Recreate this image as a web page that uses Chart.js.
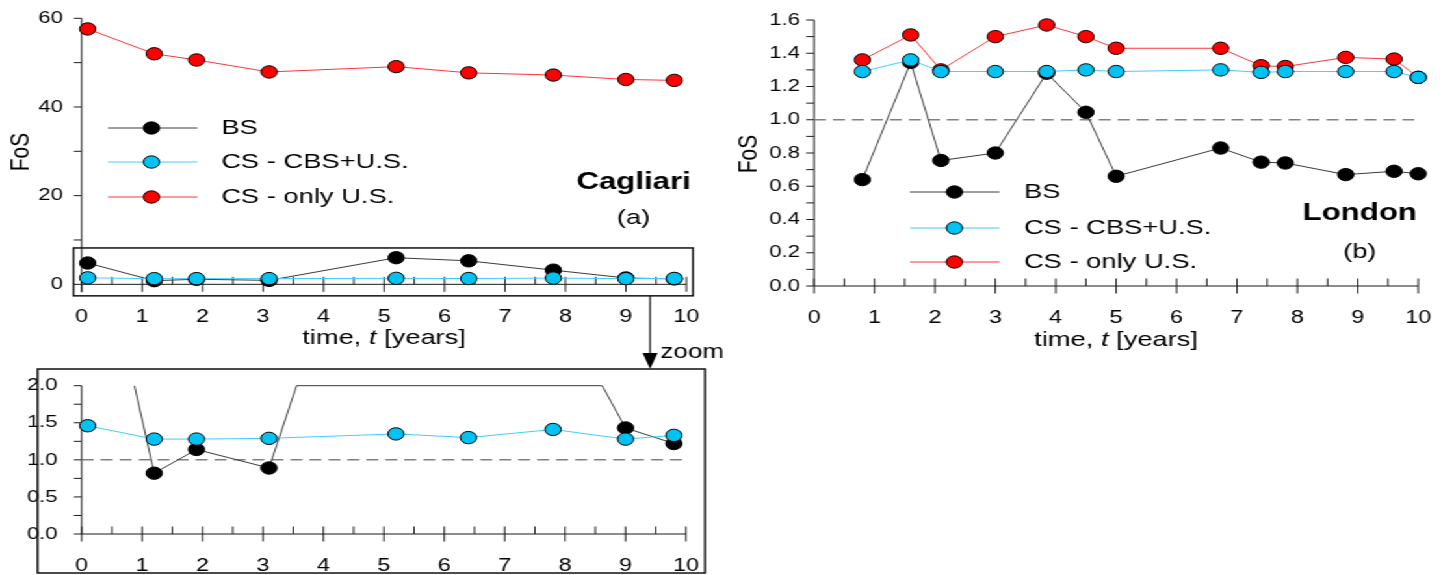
<!DOCTYPE html>
<html>
<head>
<meta charset="utf-8">
<script src="https://cdn.jsdelivr.net/npm/chart.js@4.4.1/dist/chart.umd.min.js"></script>
<style>
  html, body { margin: 0; padding: 0; background: #fff; }
  /* the original figure is stretched horizontally, so is this one */
  #wrap { position: absolute; left: 0; top: 0; width: 1114px; height: 575px; transform: scaleX(1.3); transform-origin: 0 0; }
  canvas { position: absolute; }
</style>
</head>
<body>
<div id="wrap">
  <canvas id="chartA" width="560" height="370" style="left:0;top:0"></canvas>
  <canvas id="chartZ" width="560" height="210" style="left:0;top:365px"></canvas>
  <canvas id="chartB" width="554" height="370" style="left:560px;top:0"></canvas>
</div>
<script>
const FONT = "'Liberation Sans', Arial, sans-serif";
const NARROW = "'Liberation Sans Narrow', 'Liberation Sans', Arial, sans-serif";

const seriesNames = ['BS', 'CS - CBS+U.S.', 'CS - only U.S.'];

// Cagliari (a) + zoom
const tCagliari = [0.1, 1.2, 1.9, 3.1, 5.2, 6.4, 7.8, 9.0, 9.8];
const bsCagliari = [4.8, 0.82, 1.14, 0.89, 6.0, 5.3, 3.2, 1.43, 1.22];
const cbsCagliari = [1.46, 1.28, 1.28, 1.29, 1.35, 1.30, 1.41, 1.28, 1.33];
const onlyCagliari = [57.6, 52.0, 50.6, 47.9, 49.1, 47.7, 47.2, 46.2, 46.0];

// London (b)
const tLondon = [0.8, 1.6, 2.1, 3.0, 3.85, 4.5, 5.0, 6.73, 7.4, 7.8, 8.8, 9.6, 10.0];
const bsLondon = [0.64, 1.345, 0.755, 0.80, 1.28, 1.045, 0.66, 0.83, 0.745, 0.74, 0.67, 0.69, 0.675];
const cbsLondon = [1.29, 1.36, 1.29, 1.29, 1.29, 1.30, 1.29, 1.30, 1.285, 1.29, 1.29, 1.29, 1.255];
const onlyLondon = [1.36, 1.51, 1.30, 1.50, 1.57, 1.50, 1.43, 1.43, 1.325, 1.32, 1.375, 1.365, 1.255];

// ticks
const xTicks = [0, 1, 2, 3, 4, 5, 6, 7, 8, 9, 10];
const xMinorTicks = [0.5, 1.5, 2.5, 3.5, 4.5, 5.5, 6.5, 7.5, 8.5, 9.5];
const cagliariYTicks = [0, 20, 40, 60];
const cagliariYLabels = ['0', '20', '40', '60'];
const cagliariYMinor = [10, 30, 50];
const zoomYTicks = [0, 0.5, 1.0, 1.5, 2.0];
const zoomYLabels = ['0.0', '0.5', '1.0', '1.5', '2.0'];
const zoomYMinor = [0.25, 0.75, 1.25, 1.75];
const londonYTicks = [0, 0.2, 0.4, 0.6, 0.8, 1.0, 1.2, 1.4, 1.6];
const londonYLabels = ['0.0', '0.2', '0.4', '0.6', '0.8', '1.0', '1.2', '1.4', '1.6'];
const londonYMinor = [0.1, 0.3, 0.5, 0.7, 0.9, 1.1, 1.3, 1.5];
const limitFoS = 1.0;

const COLORS = {
  bs: { line: '#3a3a3a', fill: '#000000' },
  cbs: { line: '#3fcfff', fill: '#00c3f3' },
  only: { line: '#ff3535', fill: '#ff0000' }
};

function points(t, v) {
  return t.map((x, i) => ({ x: x, y: v[i] }));
}

function makeSet(label, data, col, order, clip) {
  return {
    label: label,
    data: data,
    borderColor: col.line,
    backgroundColor: col.fill,
    pointBackgroundColor: col.fill,
    pointBorderColor: '#000',
    pointBorderWidth: 1,
    pointRadius: 6.2,
    borderWidth: 1,
    tension: 0,
    order: order,
    clip: clip === undefined ? 20 : clip
  };
}

function makeOptions(o) {
  return {
    responsive: false,
    animation: false,
    events: [],
    layout: { padding: o.padding },
    plugins: { legend: { display: false }, tooltip: { enabled: false } },
    scales: {
      x: {
        type: 'linear', min: 0, max: 10,
        grid: { display: false }, border: { display: false },
        afterBuildTicks: s => { s.ticks = xTicks.map(v => ({ value: v })); },
        afterFit: s => { s.height = o.xHeight; },
        ticks: {
          autoSkip: false, maxRotation: 0, padding: o.xPad, color: '#000',
          font: { family: NARROW, size: 18 },
          callback: v => String(v)
        }
      },
      y: {
        type: 'linear', min: o.yMin, max: o.yMax,
        grid: { display: false }, border: { display: false },
        afterBuildTicks: s => { s.ticks = o.yTicks.map(v => ({ value: v })); },
        afterFit: s => { s.width = o.yWidth; },
        ticks: {
          padding: o.yPad, color: '#000',
          font: { family: NARROW, size: 17 },
          callback: (v, i) => o.yLabels[i]
        }
      }
    }
  };
}

function drawAxes(chart, yMajor, yMinor) {
  const { ctx, scales: { x, y } } = chart;
  const x0 = x.getPixelForValue(0), x10 = x.getPixelForValue(10);
  const y0 = y.getPixelForValue(0);
  ctx.save();
  ctx.strokeStyle = '#1a1a1a';
  ctx.lineWidth = 1;
  ctx.beginPath();
  ctx.moveTo(x0, y.getPixelForValue(y.max));
  ctx.lineTo(x0, chart.chartArea.bottom);
  ctx.moveTo(x0, y0);
  ctx.lineTo(x10, y0);
  xTicks.forEach(v => {
    const p = x.getPixelForValue(v);
    ctx.moveTo(p, y0 - 7.5);
    ctx.lineTo(p, y0 + 7.5);
  });
  xMinorTicks.forEach(v => {
    const p = x.getPixelForValue(v);
    ctx.moveTo(p, y0 - 7.5);
    ctx.lineTo(p, y0);
  });
  yMajor.concat(yMinor).forEach(v => {
    const p = y.getPixelForValue(v);
    ctx.moveTo(x0 - 6, p);
    ctx.lineTo(x0, p);
  });
  ctx.stroke();
  ctx.restore();
}

function drawLimit(chart) {
  const { ctx, scales: { x, y } } = chart;
  const p = y.getPixelForValue(limitFoS);
  ctx.save();
  ctx.strokeStyle = '#808080';
  ctx.lineWidth = 1.5;
  ctx.setLineDash([9.2, 5.4]);
  ctx.beginPath();
  ctx.moveTo(x.getPixelForValue(0), p);
  ctx.lineTo(x.getPixelForValue(10), p);
  ctx.stroke();
  ctx.restore();
}

function drawLegend(chart, L) {
  const ctx = chart.ctx;
  ctx.save();
  chart.data.datasets.forEach((ds, i) => {
    const yy = L.rows[i];
    ctx.strokeStyle = ds.borderColor;
    ctx.lineWidth = 1;
    ctx.beginPath();
    ctx.moveTo(L.x1, yy);
    ctx.lineTo(L.x2, yy);
    ctx.stroke();
    ctx.beginPath();
    ctx.arc(L.xm, yy, 6.2, 0, Math.PI * 2);
    ctx.fillStyle = ds.pointBackgroundColor;
    ctx.fill();
    ctx.strokeStyle = '#000';
    ctx.stroke();
    ctx.fillStyle = '#000';
    ctx.font = '21px ' + FONT;
    ctx.textAlign = 'left';
    ctx.textBaseline = 'middle';
    ctx.fillText(ds.label, L.xt, yy);
  });
  ctx.restore();
}

function drawText(ctx, text, x, y, font, align) {
  ctx.save();
  ctx.fillStyle = '#000';
  ctx.font = font;
  ctx.textAlign = align || 'center';
  ctx.textBaseline = 'middle';
  ctx.fillText(text, x, y);
  ctx.restore();
}

function drawTitles(chart, fosX, fosY, titleY) {
  const { ctx, scales: { x } } = chart;
  const cx = (x.getPixelForValue(0) + x.getPixelForValue(10)) / 2;
  const parts = [{ s: 'time, ', f: '' }, { s: 't', f: 'italic ' }, { s: ' [years]', f: '' }];
  ctx.save();
  let total = 0;
  parts.forEach(p => {
    ctx.font = p.f + '21px ' + FONT;
    p.w = ctx.measureText(p.s).width;
    total += p.w;
  });
  let xx = cx - total / 2;
  ctx.fillStyle = '#000';
  ctx.textAlign = 'left';
  ctx.textBaseline = 'middle';
  parts.forEach(p => {
    ctx.font = p.f + '21px ' + FONT;
    ctx.fillText(p.s, xx, titleY);
    xx += p.w;
  });
  ctx.translate(fosX, fosY);
  ctx.rotate(-Math.PI / 2);
  ctx.font = '21px ' + FONT;
  ctx.textAlign = 'center';
  ctx.fillText('FoS', 0, 0);
  ctx.restore();
}

// (a) Cagliari
const decorA = {
  id: 'decorA',
  beforeDatasetsDraw(chart) {
    drawAxes(chart, cagliariYTicks, cagliariYMinor);
  },
  afterDraw(chart) {
    const { ctx, scales: { x, y } } = chart;
    // frame around the band that is zoomed below
    const l = x.getPixelForValue(-0.135), r = x.getPixelForValue(10.11);
    const t = y.getPixelForValue(8.2), b = y.getPixelForValue(-2.6);
    ctx.save();
    ctx.strokeStyle = '#111';
    ctx.lineWidth = 1.5;
    ctx.strokeRect(l, t, r - l, b - t);
    // arrow to the zoom panel
    const ax = x.getPixelForValue(9.4);
    ctx.lineWidth = 1.2;
    ctx.beginPath();
    ctx.moveTo(ax, b);
    ctx.lineTo(ax, 356);
    ctx.stroke();
    ctx.fillStyle = '#000';
    ctx.beginPath();
    ctx.moveTo(ax - 5.8, 353);
    ctx.lineTo(ax + 5.8, 353);
    ctx.lineTo(ax, 369);
    ctx.closePath();
    ctx.fill();
    ctx.restore();
    drawText(ctx, 'zoom', ax + 8, 352, '20px ' + FONT, 'left');
    drawLegend(chart, { x1: 83, x2: 151.8, xm: 116.5, xt: 170.2, rows: [128, 162, 197] });
    drawText(ctx, 'Cagliari', 487.4, 182, 'bold 24px ' + FONT);
    drawText(ctx, '(a)', 487.4, 218, '21px ' + FONT);
    drawTitles(chart, 16.5, 152, 338);
  }
};

new Chart(document.getElementById('chartA'), {
  type: 'line',
  data: {
    datasets: [
      makeSet(seriesNames[0], points(tCagliari, bsCagliari), COLORS.bs, 3),
      makeSet(seriesNames[1], points(tCagliari, cbsCagliari), COLORS.cbs, 1),
      makeSet(seriesNames[2], points(tCagliari, onlyCagliari), COLORS.only, 2)
    ]
  },
  options: makeOptions({
    padding: { left: 0, right: 32, top: 18.3, bottom: 0 },
    xHeight: 77.7, xPad: 6,
    yMin: -1.8, yMax: 60, yTicks: cagliariYTicks, yLabels: cagliariYLabels,
    yWidth: 62.8, yPad: 6.3
  }),
  plugins: [decorA]
});

// zoom of (a)
const decorZ = {
  id: 'decorZ',
  beforeDatasetsDraw(chart) {
    drawAxes(chart, zoomYTicks, zoomYMinor);
    drawLimit(chart);
  },
  afterDatasetsDraw(chart) {
    // BS runs above the top of the panel are drawn along its upper edge
    const { ctx, scales: { x, y } } = chart;
    const ds = chart.data.datasets[0];
    const pts = ds.data, n = pts.length, max = y.max;
    const cross = (a, b) => a.x + (max - a.y) / (b.y - a.y) * (b.x - a.x);
    ctx.save();
    ctx.strokeStyle = ds.borderColor;
    ctx.lineWidth = ds.borderWidth;
    let i = 0;
    while (i < n) {
      if (pts[i].y > max) {
        let j = i;
        while (j + 1 < n && pts[j + 1].y > max) j++;
        if (j > i) {
          const xl = i > 0 ? cross(pts[i - 1], pts[i]) : pts[i].x;
          const xr = j < n - 1 ? cross(pts[j], pts[j + 1]) : pts[j].x;
          const py = y.getPixelForValue(max);
          ctx.beginPath();
          ctx.moveTo(x.getPixelForValue(xl), py);
          ctx.lineTo(x.getPixelForValue(xr), py);
          ctx.stroke();
        }
        i = j + 1;
      } else {
        i++;
      }
    }
    ctx.restore();
  },
  afterDraw(chart) {
    const ctx = chart.ctx;
    ctx.save();
    ctx.strokeStyle = '#111';
    ctx.lineWidth = 1.5;
    ctx.strokeRect(28.9, 4, 542.3 - 28.9, 204);
    ctx.restore();
  }
};

new Chart(document.getElementById('chartZ'), {
  type: 'line',
  data: {
    datasets: [
      makeSet(seriesNames[0], points(tCagliari, bsCagliari), COLORS.bs, 2, { left: 20, right: 20, top: 0, bottom: 20 }),
      makeSet(seriesNames[1], points(tCagliari, cbsCagliari), COLORS.cbs, 1)
    ]
  },
  options: makeOptions({
    padding: { left: 0, right: 32.3, top: 17.7, bottom: 0 },
    xHeight: 41, xPad: 13,
    yMin: 0, yMax: 2.0, yTicks: zoomYTicks, yLabels: zoomYLabels,
    yWidth: 62.8, yPad: 10.5
  }),
  plugins: [decorZ]
});

// (b) London
const decorB = {
  id: 'decorB',
  beforeDatasetsDraw(chart) {
    drawAxes(chart, londonYTicks, londonYMinor);
    drawLimit(chart);
  },
  afterDraw(chart) {
    const ctx = chart.ctx;
    drawLegend(chart, { x1: 140, x2: 208.8, xm: 174.2, xt: 227.7, rows: [192, 228, 262] });
    drawText(ctx, 'London', 486, 213, 'bold 24px ' + FONT);
    drawText(ctx, '(b)', 486, 252, '21px ' + FONT);
    drawTitles(chart, 15.8, 154, 340);
  }
};

new Chart(document.getElementById('chartB'), {
  type: 'line',
  data: {
    datasets: [
      makeSet(seriesNames[0], points(tLondon, bsLondon), COLORS.bs, 3),
      makeSet(seriesNames[1], points(tLondon, cbsLondon), COLORS.cbs, 1),
      makeSet(seriesNames[2], points(tLondon, onlyLondon), COLORS.only, 2)
    ]
  },
  options: makeOptions({
    padding: { left: 0, right: 22, top: 20, bottom: 0 },
    xHeight: 84, xPad: 13,
    yMin: 0, yMax: 1.6, yTicks: londonYTicks, yLabels: londonYLabels,
    yWidth: 66.2, yPad: 2.7
  }),
  plugins: [decorB]
});
</script>
</body>
</html>
